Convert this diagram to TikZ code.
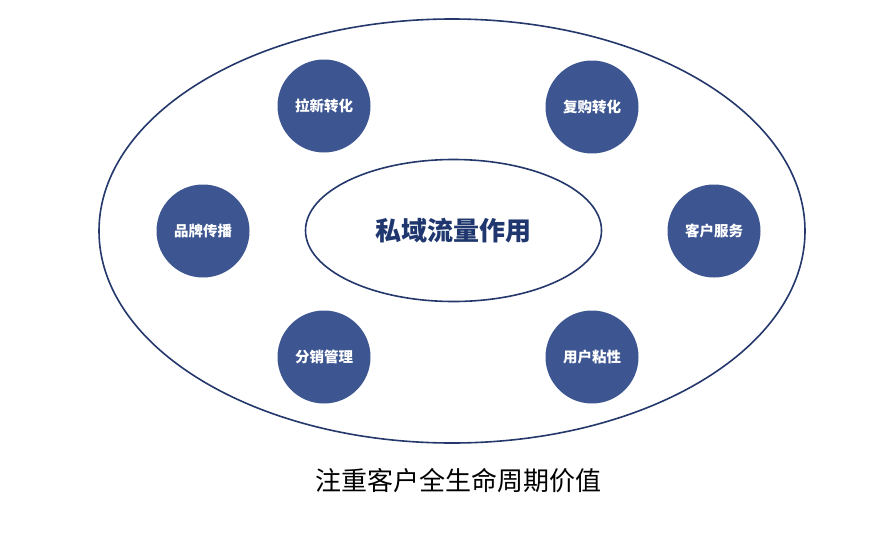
\documentclass[tikz,border=0pt]{standalone}
\usepackage{fontspec}
\newfontfamily\cjk{Noto Sans CJK SC}
\definecolor{navy}{RGB}{36,56,108}
\definecolor{bubble}{RGB}{61,85,145}
\definecolor{titlecol}{RGB}{31,55,110}
\begin{document}
\begin{tikzpicture}[x=1pt,y=-1pt,
  ring/.style={draw=navy,line width=1.6pt,fill=none},
  bubblenode/.style={circle,fill=bubble,minimum size=93pt,inner sep=0pt,text=white,font=\cjk\bfseries\fontsize{14.5}{16}\selectfont},
  centertext/.style={font=\cjk\bfseries\fontsize{26}{28}\selectfont,text=titlecol},
  caption/.style={font=\cjk\fontsize{26}{28}\selectfont,text=black}]
\useasboundingbox[fill=white] (0,0) rectangle (888,549);
\draw[ring] (452,231) ellipse [x radius=353, y radius=212];
\draw[ring] (453.5,230.5) ellipse [x radius=148, y radius=71];
\node[centertext] (core) at (453,231) {私域流量作用};
\node[bubblenode] (lx) at (324,106) {拉新转化};
\node[bubblenode] (fg) at (592,107) {复购转化};
\node[bubblenode] (pp) at (203,231) {品牌传播};
\node[bubblenode] (kf) at (714,231) {客户服务};
\node[bubblenode] (fx) at (324,357) {分销管理};
\node[bubblenode] (yh) at (592,357) {用户粘性};
\node[caption] (cap) at (458,481) {注重客户全生命周期价值};
\end{tikzpicture}
\end{document}
